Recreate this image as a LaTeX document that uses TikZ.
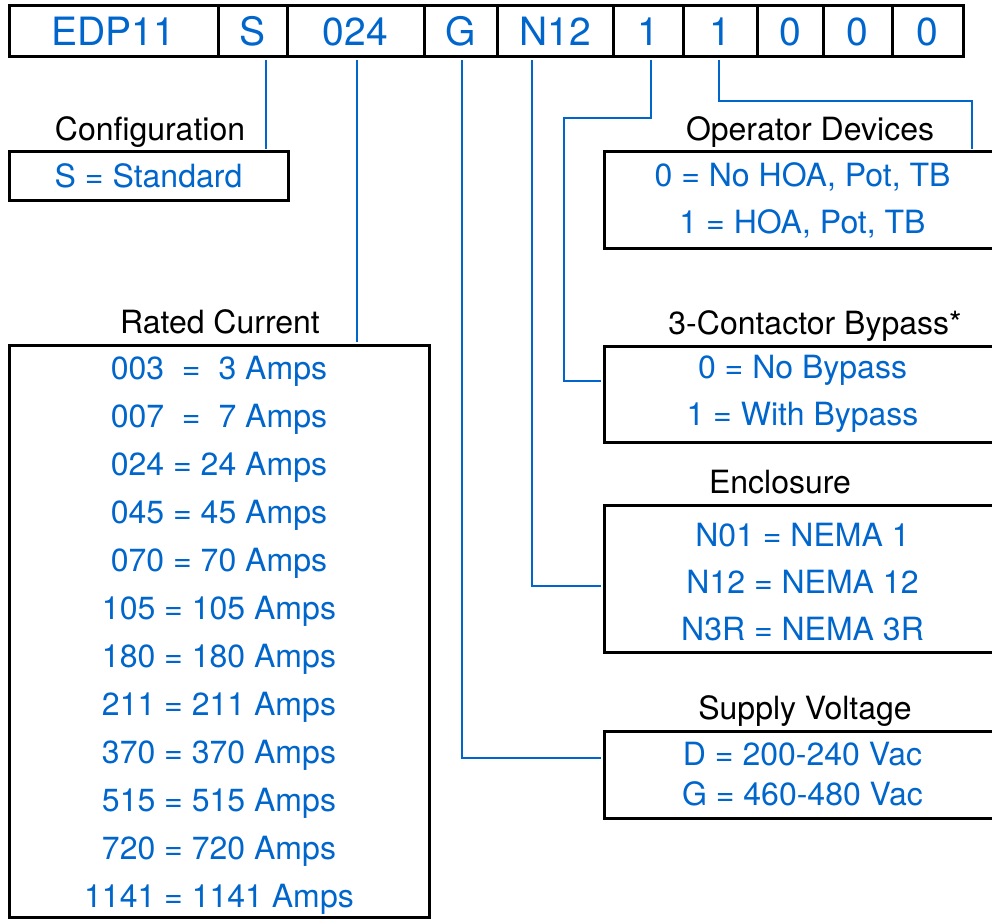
\documentclass[tikz,border=0pt]{standalone}
\usepackage{fontspec}
\setmainfont{TeX Gyre Heros}
\usetikzlibrary{positioning}
\definecolor{codeBlue}{HTML}{0066CC}

\begin{document}
\begin{tikzpicture}[x=1pt, y=-1pt,
    cell/.style={draw, line width=3pt, minimum height=51pt, inner sep=0pt, text=codeBlue, font=\fontsize{39}{45}\selectfont},
    optbox/.style={draw, line width=3pt, inner sep=0pt, align=center, text=codeBlue, font=\fontsize{32}{47}\selectfont},
    heading/.style={anchor=base, font=\fontsize{32}{37}\selectfont},
    wire/.style={codeBlue, line width=2pt, shorten <=1.5pt, shorten >=1.5pt}]
    \useasboundingbox (0,0) rectangle (992,920);
    \clip (0,0) rectangle (992,920);
    % Model code bar
    \foreach \lft/\rgt/\code/\nm in {9/218/EDP11/model, 218/287/S/cfg, 287/424/024/amps, 424/497/G/volt, 497/613/N12/encl, 613/683/1/byp, 683/757/1/opd, 757/823/0/spa, 823/892/0/spb, 892/963/0/spc}
        \node[cell, minimum width={\rgt-\lft}] (\nm) at ({(\lft+\rgt)/2}, 31.5) {\code};

    % Option boxes
    \node[optbox, minimum width=279pt, minimum height=48pt] (cfgbox) at (148.5,176) {S = Standard};
    \node[optbox, minimum width=420pt, minimum height=572pt, font=\fontsize{32}{48}\selectfont] (ampbox) at (219,631) {\rule{0pt}{31pt}003\hspace{.28em} = \hspace{.28em}3 Amps\\007\hspace{.28em} = \hspace{.28em}7 Amps\\024 = 24 Amps\\045 = 45 Amps\\070 = 70 Amps\\105 = 105 Amps\\180 = 180 Amps\\211 = 211 Amps\\370 = 370 Amps\\515 = 515 Amps\\720 = 720 Amps\\1141 = 1141 Amps};
    \node[optbox, minimum width=397pt, minimum height=96pt] (opdbox) at (802.5,200) {0 = No HOA, Pot, TB\\1 = HOA, Pot, TB};
    \node[optbox, minimum width=397pt, minimum height=96pt] (bypbox) at (802.5,394) {0 = No Bypass\\1 = With Bypass};
    \node[optbox, minimum width=397pt, minimum height=147pt] (enclbox) at (802.5,578.5) {\rule{0pt}{31pt}N01 = NEMA 1\\N12 = NEMA 12\\N3R = NEMA 3R};
    \node[optbox, minimum width=397pt, minimum height=87pt, font=\fontsize{32}{40}\selectfont] (volbox) at (802.5,774.5) {D = 200-240 Vac\\G = 460-480 Vac};

    % Headings
    \node[above=10pt of cfgbox, heading, xshift=1.5pt] (cfglbl) {Configuration};
    \node[above=10pt of ampbox, heading, xshift=1pt] (amplbl) {Rated Current};
    \node[above=10pt of opdbox, heading, xshift=7.5pt] (opdlbl) {Operator Devices};
    \node[above=10pt of bypbox, heading, xshift=12.5pt] (byplbl) {3-Contactor Bypass*};
    \node[above=10pt of enclbox, heading, xshift=-22.5pt] (encllbl) {Enclosure};
    \node[above=10pt of volbox, heading, xshift=2.5pt] (vollbl) {Supply Voltage};

    % Leader lines
    \draw[wire] ([xshift=13.5pt]cfg.south) -- ([xshift=13.5pt]cfg.south |- cfgbox.north);
    \draw[wire] ([xshift=1.5pt]amps.south) -- ([xshift=1.5pt]amps.south |- ampbox.north);
    \draw[wire] ([xshift=1.5pt]volt.south) |- ([yshift=16.5pt]volbox.west);
    \draw[wire] ([xshift=-23pt]encl.south) |- ([yshift=-7.5pt]enclbox.west);
    \draw[wire] ([xshift=3pt]byp.south) -- ++(0,60) -- ++(-87,0) |- ([yshift=13pt]bypbox.west);
    \draw[wire] ([xshift=-1pt]opd.south) -- ++(0,43) -| ([xshift=169.5pt]opdbox.north);
\end{tikzpicture}
\end{document}
